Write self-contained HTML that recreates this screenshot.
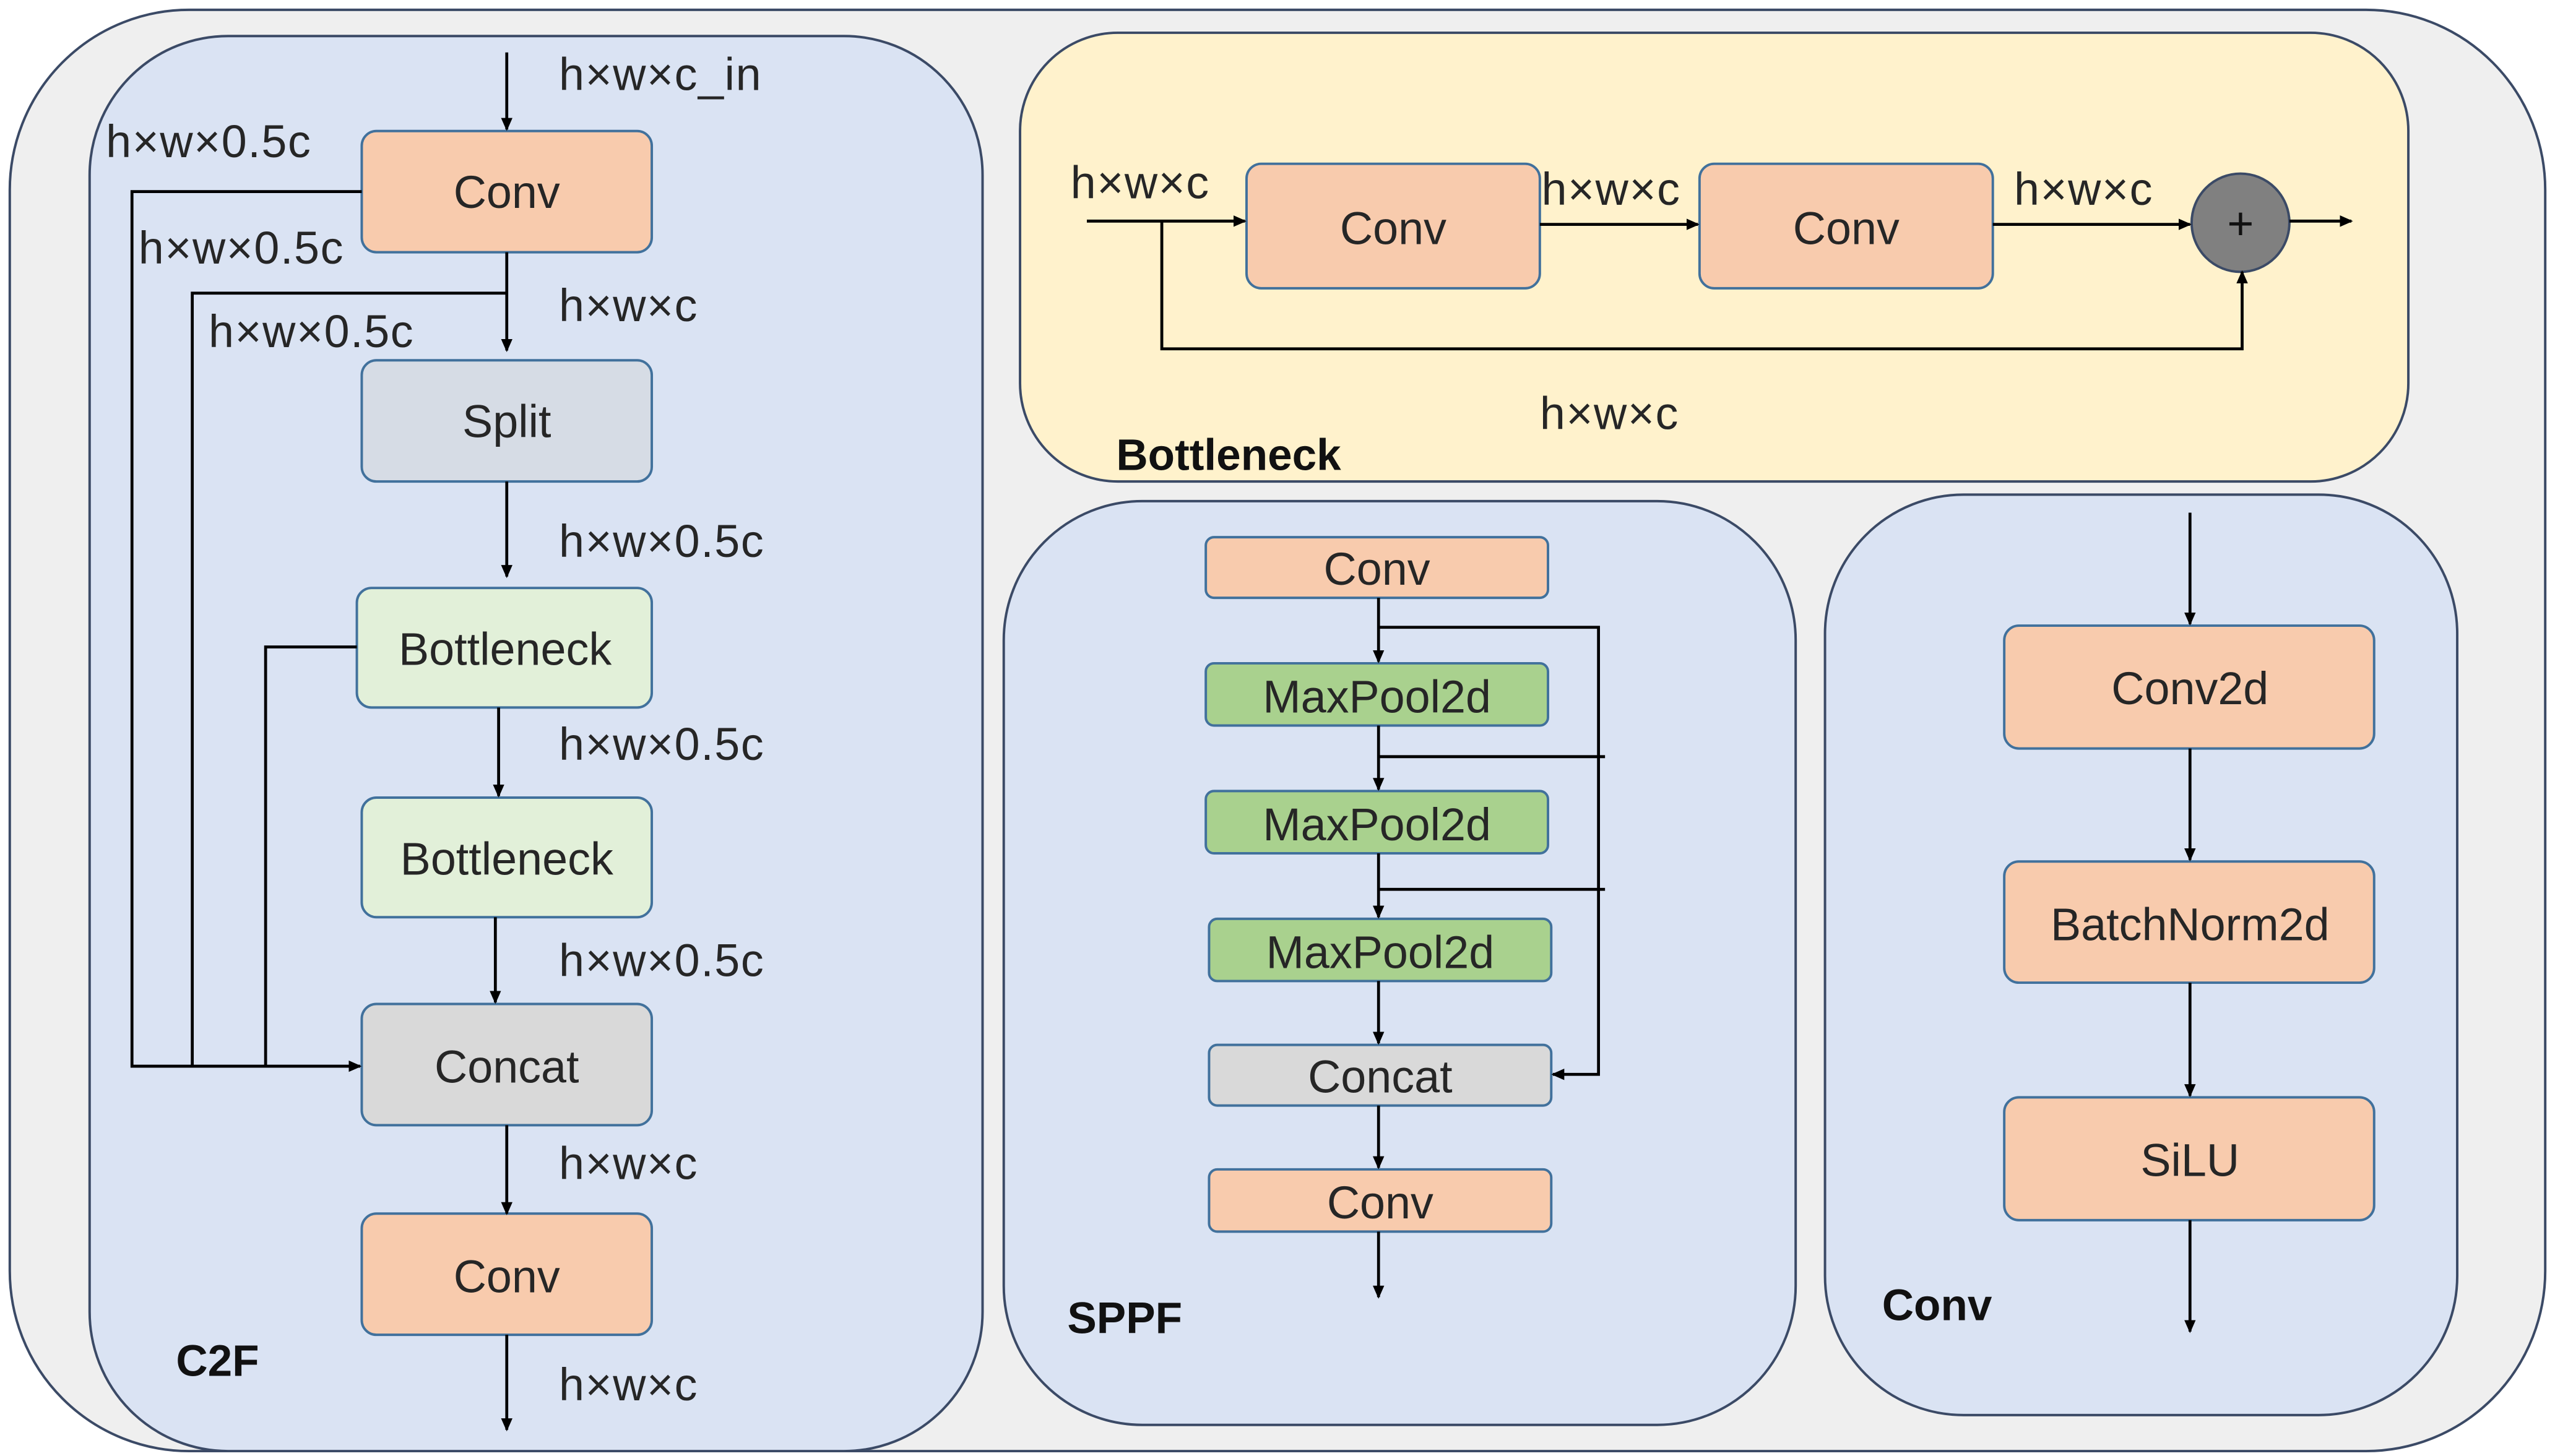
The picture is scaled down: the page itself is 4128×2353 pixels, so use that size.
<!DOCTYPE html>
<html><head><meta charset="utf-8"><style>html,body{margin:0;padding:0;background:#fff}svg{display:block}</style></head>
<body>
<svg width="4128" height="2353" viewBox="0 0 1568 889" preserveAspectRatio="none" xmlns="http://www.w3.org/2000/svg" font-family="Liberation Sans, sans-serif">
<defs>
<marker id="a" markerWidth="8" markerHeight="8" refX="7" refY="4" orient="auto" markerUnits="userSpaceOnUse"><path d="M0,0.5 L8,4 L0,7.5 z" fill="#000"/></marker>
</defs>
<rect x="6" y="6" width="1556" height="880" rx="110" fill="#efefef" stroke="#3b4a66" stroke-width="1.5"/>
<rect x="55" y="22" width="548" height="864" rx="85" fill="#dae3f3" stroke="#3b4a66" stroke-width="1.5"/>
<rect x="626" y="20" width="852" height="274" rx="60" fill="#fff2cc" stroke="#3b4a66" stroke-width="1.5"/>
<rect x="616" y="306" width="486" height="564" rx="85" fill="#dae3f3" stroke="#3b4a66" stroke-width="1.5"/>
<rect x="1120" y="302" width="388" height="562" rx="85" fill="#dae3f3" stroke="#3b4a66" stroke-width="1.5"/>

<g stroke="#41719c" stroke-width="1.5">
<rect x="222" y="80" width="178" height="74" rx="9" fill="#f8cbad"/>
<rect x="222" y="220" width="178" height="74" rx="9" fill="#d6dce5"/>
<rect x="219" y="359" width="181" height="73" rx="9" fill="#e2f0d9"/>
<rect x="222" y="487" width="178" height="73" rx="9" fill="#e2f0d9"/>
<rect x="222" y="613" width="178" height="74" rx="9" fill="#d9d9d9"/>
<rect x="222" y="741" width="178" height="74" rx="9" fill="#f8cbad"/>
<rect x="765" y="100" width="180" height="76" rx="9" fill="#f8cbad"/>
<rect x="1043" y="100" width="180" height="76" rx="9" fill="#f8cbad"/>
<rect x="740" y="328" width="210" height="37" rx="5" fill="#f8cbad"/>
<rect x="740" y="405" width="210" height="38" rx="5" fill="#a9d18e"/>
<rect x="740" y="483" width="210" height="38" rx="5" fill="#a9d18e"/>
<rect x="742" y="561" width="210" height="38" rx="5" fill="#a9d18e"/>
<rect x="742" y="638" width="210" height="37" rx="5" fill="#d9d9d9"/>
<rect x="742" y="714" width="210" height="38" rx="5" fill="#f8cbad"/>
<rect x="1230" y="382" width="227" height="75" rx="9" fill="#f8cbad"/>
<rect x="1230" y="526" width="227" height="74" rx="9" fill="#f8cbad"/>
<rect x="1230" y="670" width="227" height="75" rx="9" fill="#f8cbad"/>
</g>
<circle cx="1375" cy="136" r="30" fill="#808080" stroke="#3b4a66" stroke-width="1.5"/>

<g stroke="#000" stroke-width="1.8" fill="none">
<path d="M311,32V79" marker-end="url(#a)"/>
<path d="M311,154V214" marker-end="url(#a)"/>
<path d="M222,117H81V651H221" marker-end="url(#a)"/>
<path d="M311,179H118V651"/>
<path d="M219,395H163V651"/>
<path d="M311,294V352" marker-end="url(#a)"/>
<path d="M306,432V486" marker-end="url(#a)"/>
<path d="M304,560V612" marker-end="url(#a)"/>
<path d="M311,687V741" marker-end="url(#a)"/>
<path d="M311,815V873" marker-end="url(#a)"/>
<path d="M667,135H764" marker-end="url(#a)"/>
<path d="M945,137H1042" marker-end="url(#a)"/>
<path d="M1223,137H1344" marker-end="url(#a)"/>
<path d="M1405,135H1443" marker-end="url(#a)"/>
<path d="M713,135V213H1376V166" marker-end="url(#a)"/>
<path d="M846,365V404" marker-end="url(#a)"/>
<path d="M846,443V482" marker-end="url(#a)"/>
<path d="M846,521V560" marker-end="url(#a)"/>
<path d="M846,599V637" marker-end="url(#a)"/>
<path d="M846,675V713" marker-end="url(#a)"/>
<path d="M846,752V792" marker-end="url(#a)"/>
<path d="M846,383H981V656H953" marker-end="url(#a)"/>
<path d="M846,462H985"/>
<path d="M846,543H985"/>
<path d="M1344,313V381" marker-end="url(#a)"/>
<path d="M1344,457V525" marker-end="url(#a)"/>
<path d="M1344,600V669" marker-end="url(#a)"/>
<path d="M1344,745V813" marker-end="url(#a)"/>
</g>

<g fill="#262626" font-size="28" text-anchor="middle">
<text x="311" y="127">Conv</text>
<text x="311" y="267">Split</text>
<text x="310" y="406">Bottleneck</text>
<text x="311" y="534">Bottleneck</text>
<text x="311" y="661">Concat</text>
<text x="311" y="789">Conv</text>
<text x="855" y="149">Conv</text>
<text x="1133" y="149">Conv</text>
<text x="845" y="357">Conv</text>
<text x="845" y="435">MaxPool2d</text>
<text x="845" y="513">MaxPool2d</text>
<text x="847" y="591">MaxPool2d</text>
<text x="847" y="667">Concat</text>
<text x="847" y="744">Conv</text>
<text x="1344" y="430">Conv2d</text>
<text x="1344" y="574">BatchNorm2d</text>
<text x="1344" y="718">SiLU</text>
<text x="1375" y="146" font-size="28" fill="#111">+</text>
</g>
<g fill="#262626" font-size="28" letter-spacing="0.6">
<text x="343" y="55">h×w×c_in</text>
<text x="65" y="96">h×w×0.5c</text>
<text x="85" y="161">h×w×0.5c</text>
<text x="343" y="196">h×w×c</text>
<text x="128" y="212">h×w×0.5c</text>
<text x="343" y="340">h×w×0.5c</text>
<text x="343" y="464">h×w×0.5c</text>
<text x="343" y="596">h×w×0.5c</text>
<text x="343" y="720">h×w×c</text>
<text x="343" y="855">h×w×c</text>
<text x="657" y="121">h×w×c</text>
<text x="946" y="125">h×w×c</text>
<text x="1236" y="125">h×w×c</text>
<text x="945" y="262">h×w×c</text>
</g>
<g fill="#111" font-size="27" font-weight="bold">
<text x="108" y="840">C2F</text>
<text x="685" y="287">Bottleneck</text>
<text x="655" y="814">SPPF</text>
<text x="1155" y="806">Conv</text>
</g>
</svg>
</body></html>
